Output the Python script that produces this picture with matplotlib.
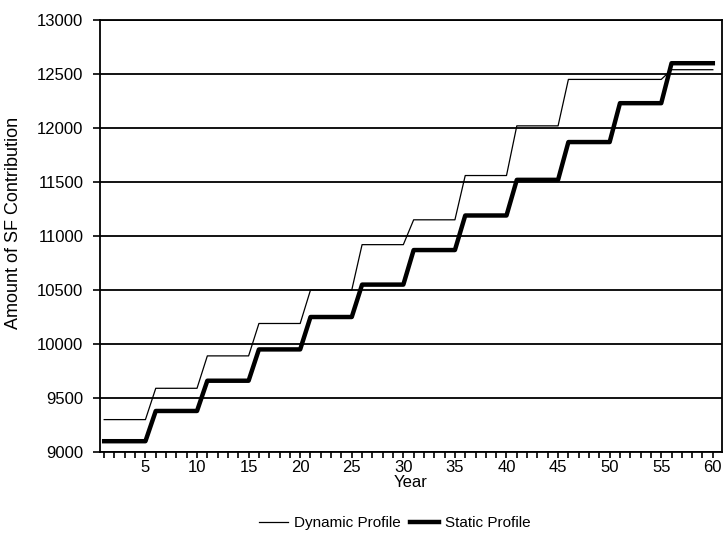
import matplotlib.pyplot as plt
from matplotlib.ticker import MultipleLocator

plt.rcParams["font.family"] = ["Liberation Sans", "DejaVu Sans"]

# step values, each held for five years
dynamic_levels = [9300, 9590, 9890, 10190, 10500, 10920,
                  11150, 11560, 12020, 12450, 12450, 12540]
static_levels = [9100, 9380, 9660, 9950, 10250, 10550,
                 10870, 11190, 11520, 11870, 12230, 12600]
years = list(range(1, 61))

dynamic = [v for v in dynamic_levels for _ in range(5)]
static = [v for v in static_levels for _ in range(5)]

fig = plt.figure(figsize=(7.25, 5.41), dpi=100)
ax = fig.add_axes([0.138, 0.1645, 0.858, 0.7985])

ax.plot(years, dynamic, color="black", linewidth=0.9, label="Dynamic Profile")
ax.plot(years, static, color="black", linewidth=3.2, label="Static Profile")

ax.set_xlim(0.6, 60.9)
ax.set_ylim(9000, 13000)
ax.yaxis.set_major_locator(MultipleLocator(500))
ax.xaxis.set_major_locator(MultipleLocator(5))
ax.xaxis.set_minor_locator(MultipleLocator(1))
ax.grid(True, axis="y", color="black", linewidth=1.3)
ax.set_axisbelow(True)

for s in ax.spines.values():
    s.set_linewidth(1.3)

ax.tick_params(axis="both", which="both", direction="out", labelsize=12,
               width=1.2)
ax.tick_params(axis="x", which="both", length=4.5, pad=1)
ax.tick_params(axis="y", length=5, pad=7)

ax.set_xlabel("Year", fontsize=12, labelpad=0)
ax.set_ylabel("Amount of SF Contribution", fontsize=13)
ax.yaxis.set_label_coords(-0.125, 0.53)

fig.legend(loc="lower center", bbox_to_anchor=(0.545, -0.005), ncol=2,
           frameon=False, fontsize=11, handlelength=1.9, columnspacing=0.6,
           handletextpad=0.4)

fig.savefig("out.png", dpi=100)
plt.close()
